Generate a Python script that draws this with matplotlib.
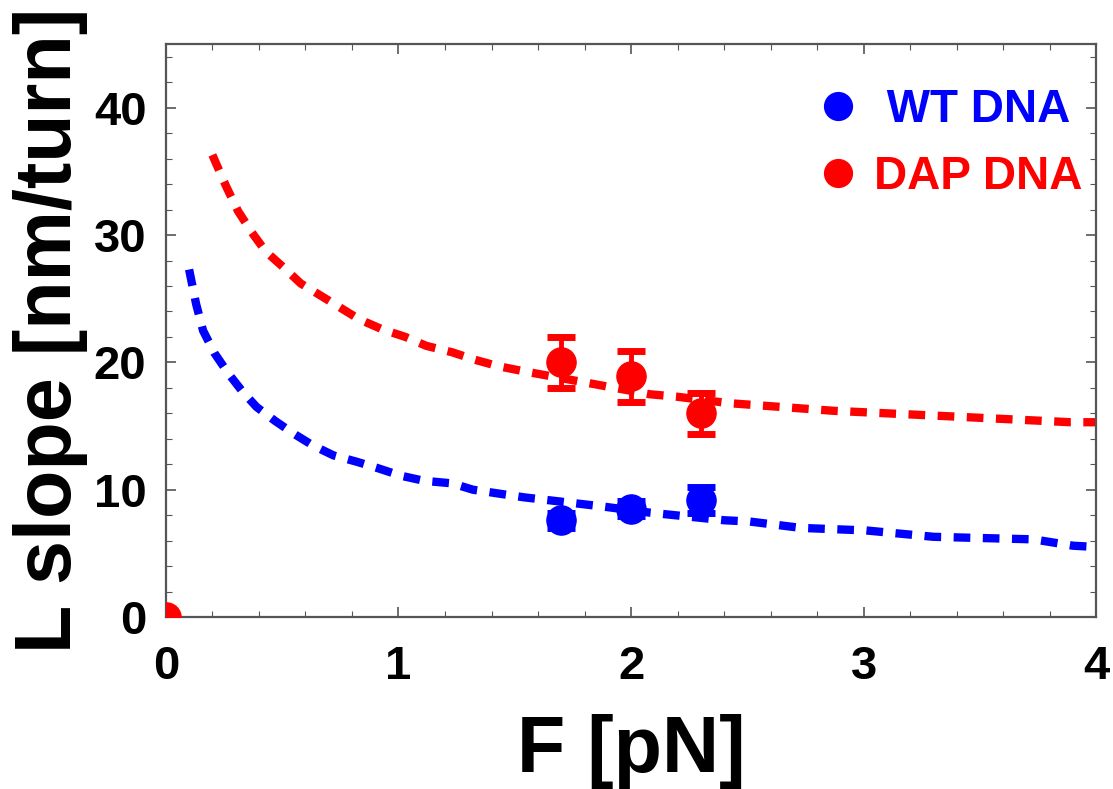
import matplotlib
matplotlib.use("Agg")
import matplotlib.pyplot as plt
from matplotlib.ticker import MultipleLocator

plt.rcParams['font.family'] = ['Liberation Sans', 'DejaVu Sans']
plt.rcParams['font.weight'] = 'bold'

# measured points
wt_force = [1.7, 2.0, 2.3]
wt_slope = [7.6, 8.5, 9.2]
wt_err = [0.6, 0.6, 1.0]

dap_force = [1.7, 2.0, 2.3]
dap_slope = [20.0, 18.9, 16.0]
dap_err = [2.0, 2.0, 1.6]

# stray point at the origin
origin_force = [0.0]
origin_slope = [0.0]

# fit curves
wt_fit_force = [0.10, 0.13, 0.16, 0.21, 0.27, 0.33, 0.39, 0.47, 0.55, 0.63, 0.72,
                0.82, 0.91, 1.01, 1.11, 1.23, 1.32, 1.54, 1.87, 2.08, 2.40, 2.51,
                2.73, 3.01, 3.30, 3.73, 3.90, 4.00]
wt_fit_slope = [27.3, 24.6, 22.5, 20.7, 19.1, 17.7, 16.5, 15.4, 14.4, 13.5, 12.7,
                12.2, 11.7, 11.1, 10.7, 10.5, 10.0, 9.4, 8.7, 8.2, 7.6, 7.5,
                7.0, 6.8, 6.3, 6.1, 5.6, 5.5]

dap_fit_force = [0.20, 0.26, 0.31, 0.37, 0.43, 0.51, 0.58, 0.67, 0.75, 0.83, 0.93,
                 1.03, 1.12, 1.23, 1.33, 1.43, 1.54, 1.87, 2.08, 2.20, 2.42, 2.87,
                 3.33, 3.89, 4.00]
dap_fit_slope = [36.3, 33.8, 31.9, 30.2, 28.7, 27.4, 26.2, 25.2, 24.3, 23.4, 22.6,
                 22.0, 21.3, 20.8, 20.2, 19.7, 19.3, 18.2, 17.5, 17.3, 16.8, 16.2,
                 15.8, 15.3, 15.3]

blue = '#0000ff'
red = '#ff0000'
frame = '#555555'

fig = plt.figure(figsize=(11.13, 7.89), dpi=100)
ax = fig.add_axes([0.149, 0.218, 0.836, 0.726])

ax.plot(wt_fit_force, wt_fit_slope, color=blue, lw=6, dashes=(2.0, 1.5), zorder=2)
ax.plot(dap_fit_force, dap_fit_slope, color=red, lw=6, dashes=(2.0, 1.5), zorder=2)

ax.errorbar(wt_force, wt_slope, yerr=wt_err, fmt='o', color=blue, ms=21,
            elinewidth=3.5, capsize=10, capthick=5, zorder=3)
ax.errorbar(dap_force, dap_slope, yerr=dap_err, fmt='o', color=red, ms=21,
            elinewidth=3.5, capsize=10, capthick=5, zorder=3)
ax.plot(origin_force, origin_slope, 'o', color=red, ms=21, zorder=3)

# legend entries
h_wt, = ax.plot([], [], 'o', color=blue, ms=20, label=' WT DNA')
h_dap, = ax.plot([], [], 'o', color=red, ms=20, label='DAP DNA')
leg = ax.legend(handles=[h_wt, h_dap], loc='upper right', frameon=False,
                fontsize=33, handletextpad=0.3, labelspacing=0.5,
                borderaxespad=0.0, bbox_to_anchor=(1.005, 0.955),
                labelcolor='linecolor', handlelength=1.0)

ax.set_xlim(0, 4)
ax.set_ylim(0, 45)
ax.xaxis.set_major_locator(MultipleLocator(1))
ax.xaxis.set_minor_locator(MultipleLocator(0.2))
ax.yaxis.set_major_locator(MultipleLocator(10))
ax.yaxis.set_minor_locator(MultipleLocator(2))

ax.tick_params(which='both', direction='in', top=True, right=True, color=frame)
ax.tick_params(which='major', length=7, width=1.2, labelsize=34, pad=20)
ax.tick_params(axis='y', which='major', pad=14)
ax.tick_params(which='minor', length=4, width=0.8)
for s in ax.spines.values():
    s.set_color(frame)
    s.set_linewidth(1.6)

ax.set_xlabel('F [pN]', fontsize=57, fontweight='bold', labelpad=18)
ax.set_ylabel('L slope [nm/turn]', fontsize=57, fontweight='bold', labelpad=4)

fig.savefig('out.png', dpi=100)
